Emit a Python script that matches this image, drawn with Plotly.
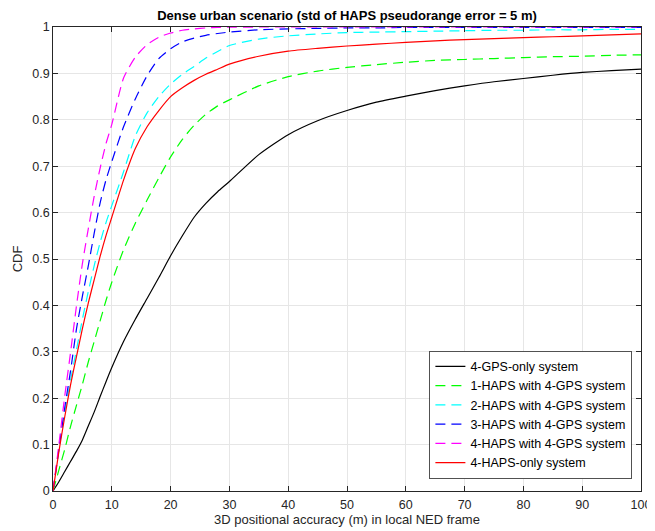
import plotly.graph_objects as go

x_vals = [0, 1, 2, 3, 4, 5, 6, 7, 8, 9, 10, 12, 14, 16, 18, 20, 22, 24, 26, 28, 30,
          35, 40, 45, 50, 55, 60, 65, 70, 75, 80, 85, 90, 95, 100]

gps_only = [0, 0.02, 0.042, 0.064, 0.086, 0.11, 0.14, 0.17, 0.203, 0.235, 0.266, 0.322, 0.37, 0.415, 0.46,
            0.507, 0.55, 0.59, 0.62, 0.645, 0.667, 0.725, 0.768, 0.798, 0.82, 0.838, 0.851, 0.863,
            0.873, 0.882, 0.889, 0.896, 0.902, 0.906, 0.909]

haps1_gps4 = [0, 0.045, 0.09, 0.14, 0.185, 0.23, 0.278, 0.322, 0.366, 0.41, 0.45, 0.52, 0.577, 0.627, 0.675,
              0.72, 0.758, 0.788, 0.812, 0.83, 0.843, 0.873, 0.893, 0.905, 0.913, 0.919, 0.924, 0.928,
              0.930, 0.932, 0.934, 0.936, 0.937, 0.939, 0.940]

haps2_gps4 = [0, 0.09, 0.17, 0.24, 0.305, 0.37, 0.43, 0.485, 0.535, 0.578, 0.615, 0.688, 0.765, 0.815, 0.85,
              0.877, 0.898, 0.915, 0.933, 0.947, 0.960, 0.974, 0.981, 0.985, 0.988, 0.989, 0.990,
              0.991, 0.992, 0.993, 0.993, 0.994, 0.994, 0.995, 0.995]

haps3_gps4 = [0, 0.09, 0.18, 0.26, 0.35, 0.42, 0.485, 0.555, 0.62, 0.67, 0.71, 0.785, 0.845, 0.895, 0.932,
              0.953, 0.968, 0.976, 0.982, 0.986, 0.989, 0.994, 0.996, 0.997, 0.998, 0.998, 0.999,
              0.999, 0.999, 0.999, 0.999, 0.999, 0.999, 0.999, 0.999]

haps4_gps4 = [0, 0.10, 0.205, 0.30, 0.40, 0.49, 0.565, 0.635, 0.695, 0.748, 0.79, 0.89, 0.935, 0.962, 0.978,
              0.987, 0.993, 0.996, 0.998, 0.999, 0.9995, 1, 1, 1, 1, 1, 1, 1, 1, 1, 1, 1, 1, 1, 1]

haps4_only = [0, 0.085, 0.16, 0.23, 0.29, 0.35, 0.405, 0.455, 0.505, 0.55, 0.59, 0.67, 0.738, 0.785, 0.82,
              0.85, 0.869, 0.885, 0.898, 0.909, 0.92, 0.937, 0.948, 0.954, 0.959, 0.963, 0.967,
              0.970, 0.973, 0.975, 0.977, 0.979, 0.981, 0.983, 0.985]

series_names = ["4-GPS-only system", "1-HAPS with 4-GPS system", "2-HAPS with 4-GPS system",
                "3-HAPS with 4-GPS system", "4-HAPS with 4-GPS system", "4-HAPS-only system"]
series_values = [gps_only, haps1_gps4, haps2_gps4, haps3_gps4, haps4_gps4, haps4_only]
series_colors = ["#000000", "#00ff00", "#00ffff", "#0000ff", "#ff00ff", "#ff0000"]
series_dash = ["solid", "10px,6px", "10px,6px", "10px,6px", "10px,6px", "solid"]

x_ticks = list(range(0, 101, 10))
y_ticks = [round(0.1 * i, 1) for i in range(11)]
y_tick_text = ["0", "0.1", "0.2", "0.3", "0.4", "0.5", "0.6", "0.7", "0.8", "0.9", "1"]

fig = go.Figure()
for name, vals, col, dash in zip(series_names, series_values, series_colors, series_dash):
    fig.add_trace(go.Scatter(x=x_vals, y=vals, mode="lines", name=name,
                             line=dict(color=col, width=1.2, dash=dash,
                                       shape="spline", smoothing=0.6)))

font_family = "Liberation Sans, Arial, Helvetica, sans-serif"
axis_common = dict(showline=True, linecolor="#262626", linewidth=0.8, mirror="ticks",
                   ticks="inside", ticklen=5, tickcolor="#262626", tickwidth=0.8,
                   showgrid=True, gridcolor="#e6e6e6", gridwidth=1, zeroline=False,
                   automargin=False,
                   tickfont=dict(size=12.5, color="#262626", family=font_family))

# The page body has an 8px default margin, so the figure is sized to fit inside the window.
fig.update_layout(
    width=647, height=523,
    margin=dict(l=45, r=14, t=19, b=40),
    paper_bgcolor="white", plot_bgcolor="white",
    font=dict(family=font_family, color="#262626"),
    title=dict(text="<b>Dense urban scenario (std of HAPS pseudorange error = 5 m)</b>",
               x=0.5, xref="paper", xanchor="center",
               y=1 - 7 / 523, yref="container", yanchor="middle",
               font=dict(size=13, color="#000000", family=font_family)),
    xaxis=dict(range=[0, 100], tickvals=x_ticks, ticklabelstandoff=2,
               title=dict(text="3D positional accuracy (m) in local NED frame",
                          font=dict(size=13, color="#262626"), standoff=3),
               **axis_common),
    yaxis=dict(range=[0, 1], tickvals=y_ticks, ticktext=y_tick_text,
               title=dict(text="CDF", font=dict(size=13, color="#262626"), standoff=6),
               **axis_common),
    legend=dict(x=0.984, y=0.026, xanchor="right", yanchor="bottom",
                bgcolor="white", bordercolor="#262626", borderwidth=0.8,
                font=dict(size=12.5, color="#000000", family=font_family),
                tracegroupgap=0),
    showlegend=True,
)

fig.write_html("out.html")
